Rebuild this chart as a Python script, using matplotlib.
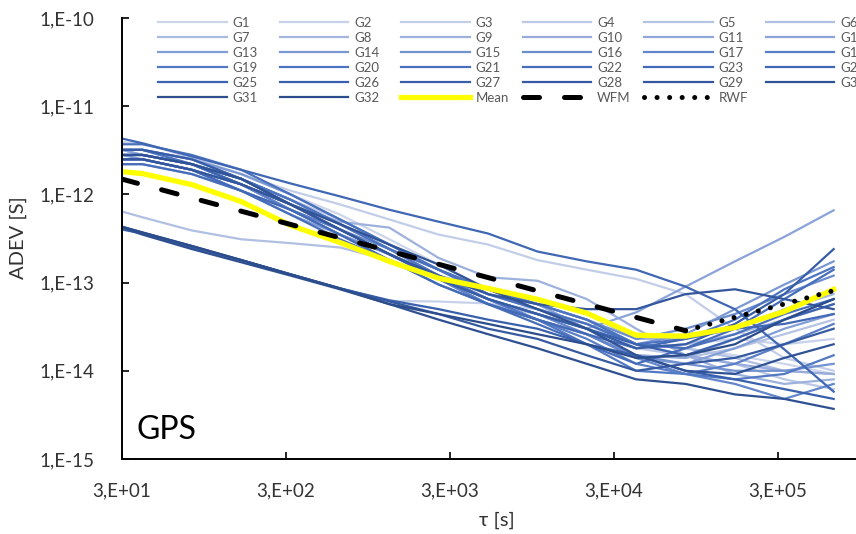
import matplotlib.pyplot as plt
import numpy as np
from matplotlib.colors import LinearSegmentedColormap
from matplotlib.lines import Line2D
from matplotlib.ticker import FixedLocator, NullLocator

plt.rcParams['font.family'] = ['Lato', 'DejaVu Sans']

# averaging times [s]
tau = [30, 40, 80, 160, 320, 640, 1280, 2560, 5120, 10240, 20480,
       40960, 81920, 163840, 327680, 655360]

# ADEV per satellite clock [s]
G1 = [3.2e-12, 3.2e-12, 2.5e-12, 1.7e-12, 1.0e-12, 5.9e-13, 3.1e-13, 1.6e-13, 8.4e-14, 5.7e-14, 3.8e-14, 2.0e-14, 1.8e-14, 1.5e-14, 1.2e-14, 9.2e-15]
G2 = [4.3e-13, 3.7e-13, 2.6e-13, 1.8e-13, 1.24e-13, 8.6e-14, 6.2e-14, 6.1e-14, 5.8e-14, 5.0e-14, 3.0e-14, 1.8e-14, 2.0e-14, 2.3e-14, 2.0e-14, 2.3e-14]
G3 = [3.9e-12, 3.8e-12, 2.6e-12, 1.7e-12, 1.1e-12, 7.7e-13, 5.2e-13, 3.5e-13, 2.7e-13, 1.8e-13, 1.4e-13, 1.1e-13, 7.4e-14, 3.0e-14, 1.4e-14, 1.0e-14]
G4 = [2.8e-12, 2.8e-12, 2.2e-12, 1.5e-12, 8.7e-13, 5.2e-13, 2.7e-13, 1.4e-13, 7.4e-14, 5.0e-14, 3.4e-14, 1.8e-14, 1.5e-14, 1.2e-14, 8.0e-15, 6.2e-15]
G5 = [2.5e-12, 2.5e-12, 1.9e-12, 1.3e-12, 7.7e-13, 4.6e-13, 2.4e-13, 1.2e-13, 6.5e-14, 4.4e-14, 3.0e-14, 1.5e-14, 1.4e-14, 1.8e-14, 2.6e-14, 3.8e-14]
G6 = [6.4e-13, 5.5e-13, 3.9e-13, 3.1e-13, 2.8e-13, 2.5e-13, 1.8e-13, 1.15e-13, 8.4e-14, 5.7e-14, 3.8e-14, 2.0e-14, 1.8e-14, 1.4e-14, 1.0e-14, 9.2e-15]
G7 = [2.8e-12, 2.8e-12, 2.2e-12, 1.3e-12, 7.7e-13, 4.0e-13, 2.1e-13, 1.1e-13, 5.7e-14, 4.4e-14, 3.0e-14, 1.8e-14, 2.0e-14, 2.6e-14, 3.8e-14, 5.7e-14]
G8 = [3.2e-12, 2.8e-12, 2.2e-12, 1.5e-12, 7.7e-13, 4.6e-13, 2.7e-13, 1.4e-13, 8.4e-14, 6.5e-14, 4.4e-14, 2.3e-14, 2.3e-14, 3.0e-14, 5.0e-14, 7.4e-14]
G9 = [3.2e-12, 3.2e-12, 2.2e-12, 1.5e-12, 7.7e-13, 4.9e-13, 4.2e-13, 1.9e-13, 1.15e-13, 1.05e-13, 6.5e-14, 3.0e-14, 1.5e-14, 9.2e-15, 7.1e-15, 8.0e-15]
G10 = [2.5e-12, 2.5e-12, 1.9e-12, 1.3e-12, 6.7e-13, 4.0e-13, 2.1e-13, 1.2e-13, 7.4e-14, 5.7e-14, 3.8e-14, 2.0e-14, 1.5e-14, 1.2e-14, 1.0e-14, 9.2e-15]
G11 = [2.2e-12, 2.2e-12, 1.7e-12, 1.1e-12, 6.7e-13, 3.5e-13, 2.1e-13, 1.2e-13, 6.5e-14, 4.4e-14, 3.0e-14, 1.5e-14, 1.4e-14, 2.3e-14, 3.8e-14, 6.5e-14]
G12 = [3.2e-12, 2.8e-12, 2.2e-12, 1.3e-12, 6.7e-13, 3.5e-13, 2.1e-13, 1.2e-13, 8.4e-14, 5.7e-14, 3.0e-14, 4.6e-14, 9.0e-14, 1.74e-13, 3.3e-13, 6.6e-13]
G13 = [2.8e-12, 2.5e-12, 1.9e-12, 1.1e-12, 5.9e-13, 3.5e-13, 1.8e-13, 1.1e-13, 5.7e-14, 3.8e-14, 2.6e-14, 1.4e-14, 1.2e-14, 1.8e-14, 3.0e-14, 4.4e-14]
G14 = [3.2e-12, 3.2e-12, 2.5e-12, 1.7e-12, 1.0e-12, 5.2e-13, 2.7e-13, 1.4e-13, 7.4e-14, 5.0e-14, 3.4e-14, 2.0e-14, 2.6e-14, 5.0e-14, 9.5e-14, 1.74e-13]
G15 = [2.5e-12, 2.5e-12, 1.9e-12, 1.1e-12, 6.7e-13, 3.5e-13, 2.1e-13, 1.1e-13, 6.5e-14, 3.8e-14, 2.6e-14, 1.5e-14, 1.2e-14, 1.0e-14, 1.0e-14, 1.2e-14]
G16 = [2.8e-12, 2.8e-12, 2.2e-12, 1.3e-12, 7.7e-13, 4.0e-13, 2.4e-13, 1.4e-13, 8.4e-14, 5.7e-14, 3.8e-14, 2.3e-14, 3.0e-14, 4.4e-14, 7.4e-14, 1.2e-13]
G17 = [3.2e-12, 3.2e-12, 2.5e-12, 1.5e-12, 8.7e-13, 4.6e-13, 2.4e-13, 1.2e-13, 6.5e-14, 4.4e-14, 2.6e-14, 1.4e-14, 9.2e-15, 7.1e-15, 4.8e-15, 7.1e-15]
G18 = [2.5e-12, 2.5e-12, 1.9e-12, 1.3e-12, 6.7e-13, 4.0e-13, 2.1e-13, 1.1e-13, 5.7e-14, 3.8e-14, 2.3e-14, 1.2e-14, 9.2e-15, 1.2e-14, 2.0e-14, 3.4e-14]
G19 = [2.8e-12, 2.8e-12, 2.2e-12, 1.5e-12, 8.7e-13, 4.6e-13, 2.4e-13, 1.2e-13, 6.5e-14, 3.8e-14, 2.0e-14, 1.0e-14, 9.2e-15, 8.0e-15, 9.2e-15, 1.5e-14]
G20 = [3.2e-12, 3.2e-12, 2.2e-12, 1.5e-12, 8.7e-13, 4.6e-13, 2.4e-13, 1.4e-13, 8.4e-14, 5.7e-14, 3.8e-14, 2.0e-14, 2.3e-14, 3.8e-14, 8.4e-14, 1.5e-13]
G21 = [3.7e-12, 3.7e-12, 2.8e-12, 1.9e-12, 1.0e-12, 5.2e-13, 2.7e-13, 1.4e-13, 7.4e-14, 5.0e-14, 3.4e-14, 2.0e-14, 1.8e-14, 2.6e-14, 4.4e-14, 6.5e-14]
G22 = [2.2e-12, 2.2e-12, 1.7e-12, 1.1e-12, 5.9e-13, 3.1e-13, 1.8e-13, 9.5e-14, 5.7e-14, 3.4e-14, 2.0e-14, 1.2e-14, 1.8e-14, 3.0e-14, 6.5e-14, 1.4e-13]
G23 = [2.5e-12, 2.5e-12, 1.9e-12, 1.1e-12, 6.7e-13, 3.5e-13, 1.8e-13, 9.5e-14, 5.7e-14, 3.8e-14, 2.6e-14, 1.8e-14, 2.3e-14, 3.0e-14, 3.4e-14, 4.4e-14]
G24 = [4.3e-12, 3.8e-12, 2.7e-12, 1.9e-12, 1.33e-12, 9.5e-13, 6.7e-13, 4.9e-13, 3.6e-13, 2.25e-13, 1.74e-13, 1.4e-13, 9.0e-14, 5.0e-14, 1.75e-14, 5.8e-15]
G25 = [2.8e-12, 2.8e-12, 2.2e-12, 1.3e-12, 7.7e-13, 4.0e-13, 2.1e-13, 1.1e-13, 6.5e-14, 4.4e-14, 3.0e-14, 2.0e-14, 1.5e-14, 2.3e-14, 3.8e-14, 5.7e-14]
G26 = [4.0e-13, 3.6e-13, 2.5e-13, 1.8e-13, 1.24e-13, 8.6e-14, 6.3e-14, 5.0e-14, 3.8e-14, 3.0e-14, 2.0e-14, 1.5e-14, 1.0e-14, 8.0e-15, 6.2e-15, 4.8e-15]
G27 = [3.2e-12, 3.2e-12, 2.5e-12, 1.5e-12, 7.7e-13, 4.0e-13, 2.1e-13, 1.1e-13, 6.5e-14, 4.4e-14, 3.0e-14, 1.8e-14, 2.0e-14, 3.4e-14, 7.4e-14, 2.4e-13]
G28 = [4.3e-13, 3.7e-13, 2.6e-13, 1.8e-13, 1.24e-13, 8.6e-14, 6.1e-14, 4.4e-14, 3.0e-14, 2.3e-14, 1.5e-14, 1.0e-14, 1.2e-14, 1.4e-14, 2.0e-14, 3.0e-14]
G29 = [2.5e-12, 2.5e-12, 1.9e-12, 1.3e-12, 7.7e-13, 4.0e-13, 2.1e-13, 1.2e-13, 7.4e-14, 5.7e-14, 5.0e-14, 5.0e-14, 7.4e-14, 8.4e-14, 6.5e-14, 5.0e-14]
G30 = [2.8e-12, 2.8e-12, 2.2e-12, 1.5e-12, 7.7e-13, 4.6e-13, 2.7e-13, 1.6e-13, 8.4e-14, 5.0e-14, 3.0e-14, 1.5e-14, 1.0e-14, 9.2e-15, 1.4e-14, 2.0e-14]
G31 = [4.2e-13, 3.5e-13, 2.4e-13, 1.7e-13, 1.2e-13, 8.4e-14, 5.7e-14, 3.8e-14, 2.6e-14, 1.8e-14, 1.2e-14, 8.0e-15, 7.1e-15, 5.4e-15, 4.8e-15, 3.7e-15]
G32 = [4.3e-13, 3.7e-13, 2.6e-13, 1.8e-13, 1.24e-13, 8.6e-14, 5.7e-14, 4.4e-14, 3.4e-14, 2.6e-14, 2.0e-14, 1.4e-14, 1.5e-14, 2.0e-14, 3.8e-14, 6.5e-14]

sats = [G1, G2, G3, G4, G5, G6, G7, G8, G9, G10, G11, G12, G13, G14, G15, G16,
        G17, G18, G19, G20, G21, G22, G23, G24, G25, G26, G27, G28, G29, G30, G31, G32]
sat_names = ['G%d' % (i + 1) for i in range(len(sats))]

mean_adev = [1.81e-12, 1.72e-12, 1.29e-12, 8.3e-13, 4.45e-13, 2.85e-13, 1.74e-13, 1.12e-13,
             8.6e-14, 6.46e-14, 4.5e-14, 2.53e-14, 2.47e-14, 3.1e-14, 4.7e-14, 8.37e-14]

# noise model lines
wfm_tau = [30, 81920]
wfm_adev = [1.49e-12, 2.85e-14]
rwf_tau = [81920, 655360]
rwf_adev = [2.85e-14, 8.1e-14]

x_ticks = [30, 300, 3000, 30000, 300000]
x_tick_labels = ['3,E+01', '3,E+02', '3,E+03', '3,E+04', '3,E+05']
y_ticks = [1e-15, 1e-14, 1e-13, 1e-12, 1e-11, 1e-10]
y_tick_labels = ['1,E-15', '1,E-14', '1,E-13', '1,E-12', '1,E-11', '1,E-10']

W, H = 856, 534
fig = plt.figure(figsize=(W / 100, H / 100), dpi=100)
ax = fig.add_axes([122 / W, (H - 459) / H, 1 - 122 / W, (459 - 18) / H])

cmap = LinearSegmentedColormap.from_list(
    'gps', ['#CDD5EB', '#A9BAE0', '#809CD5', '#4E75C2', '#3A61AD', '#2C4D8C'])
colors = [cmap(i / (len(sats) - 1)) for i in range(len(sats))]

handles = []
for vals, name, c in zip(sats, sat_names, colors):
    h, = ax.plot(tau, vals, color=c, lw=1.6, label=name, solid_joinstyle='round')
    handles.append(h)

h, = ax.plot(tau, mean_adev, color='#FFFF00', lw=3.8, label='Mean', solid_joinstyle='round')
handles.append(h)
h, = ax.plot(wfm_tau, wfm_adev, color='black', lw=3.6, label='WFM',
             linestyle=(0, (3.2, 5.0)), dash_capstyle='round')
handles.append(h)
h, = ax.plot(rwf_tau, rwf_adev, color='black', lw=3.6, label='RWF',
             linestyle=(0, (0.01, 2.5)), dash_capstyle='round')
handles.append(h)

ax.set_xscale('log')
ax.set_yscale('log')
ax.set_xlim(30, 30 * 10 ** ((W - 122) / 164))
ax.set_ylim(1e-15, 1e-10)
ax.xaxis.set_major_locator(FixedLocator(x_ticks))
ax.xaxis.set_minor_locator(NullLocator())
ax.yaxis.set_major_locator(FixedLocator(y_ticks))
ax.yaxis.set_minor_locator(NullLocator())
ax.set_xticklabels(x_tick_labels)
ax.set_yticklabels(y_tick_labels)

for s in ['top', 'right']:
    ax.spines[s].set_visible(False)
for s in ['left', 'bottom']:
    ax.spines[s].set_linewidth(1.4)
    ax.spines[s].set_color('black')
ax.tick_params(axis='both', direction='in', length=5, width=1.2, colors='black',
               labelsize=13.5, labelcolor='#333333')
ax.tick_params(axis='x', pad=17)
ax.tick_params(axis='y', pad=20)

fig.text(18 / W, 1 - 238 / H, 'ADEV [S]', rotation=90, ha='center', va='center',
         fontsize=14.5, color='#333333')
fig.text(497 / W, 1 - 520 / H, 'τ [s]', ha='center', va='center',
         fontsize=14.5, color='#333333')
ax.text(137 / W, 1 - 439 / H, 'GPS', transform=fig.transFigure, ha='left',
        va='baseline', fontsize=23, color='black')

# legend: 6 equally spaced columns, filled row by row
for j in range(6):
    col = handles[j::6]
    fig.legend(handles=col, labels=[hh.get_label() for hh in col], loc='upper left',
               bbox_to_anchor=((158 + 121.5 * j) / W, 1 - 17 / H), frameon=False,
               fontsize=9.5, handlelength=5.2, handletextpad=0.45, labelspacing=0.22,
               borderpad=0, borderaxespad=0, labelcolor='#595959')

fig.savefig('out.png', dpi=100)
